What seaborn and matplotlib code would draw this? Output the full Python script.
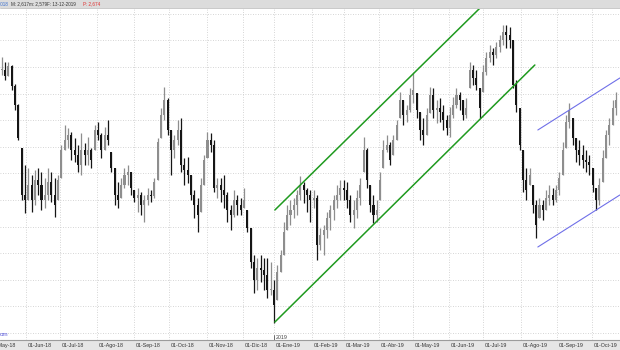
import numpy as np
import pandas as pd
import matplotlib
matplotlib.use("Agg")
import matplotlib.pyplot as plt
import matplotlib.transforms as mtransforms
from matplotlib.patches import Rectangle
from matplotlib.lines import Line2D
import seaborn as sns

# ---- data (bi-daily candles, price in index points) ----
high = [343, 338, 338, 335, 316, 296, 252, 235, 232, 225, 230, 232, 228, 222, 232, 228, 222, 225, 255, 275,
        272, 268, 262, 255, 267, 257, 263, 252, 275, 278, 267, 273, 280, 248, 232, 218, 222, 232, 235, 228,
        210, 212, 208, 205, 212, 210, 222, 262, 292, 313, 302, 270, 265, 280, 282, 242, 243, 225, 210, 202,
        222, 245, 268, 267, 260, 222, 222, 225, 208, 195, 210, 205, 202, 212, 190, 172, 145, 142, 145, 142,
        142, 138, 120, 135, 150, 178, 195, 200, 202, 210, 224, 218, 212, 210, 210, 205, 172, 175, 188, 195,
        205, 215, 220, 220, 218, 205, 200, 210, 222, 263, 252, 215, 205, 200, 228, 260, 265, 258, 265, 280,
        308, 300, 295, 312, 327, 307, 288, 282, 292, 313, 312, 300, 302, 295, 285, 293, 303, 312, 308, 300,
        302, 338, 335, 330, 312, 335, 348, 355, 352, 358, 365, 375, 375, 373, 360, 320, 292, 250, 232, 232,
        215, 200, 202, 200, 210, 215, 212, 215, 228, 258, 285, 297, 282, 262, 260, 255, 250, 245, 232, 212,
        222, 250, 270, 282, 300, 308]
low = [325, 320, 324, 310, 290, 260, 200, 187, 200, 188, 195, 205, 190, 192, 200, 198, 183, 200, 222, 250,
       252, 240, 238, 228, 225, 235, 235, 232, 250, 260, 242, 250, 255, 228, 195, 192, 202, 212, 215, 205,
       198, 188, 185, 178, 195, 198, 202, 220, 262, 280, 265, 225, 242, 255, 228, 215, 217, 200, 182, 168,
       188, 215, 242, 248, 208, 202, 198, 192, 178, 170, 183, 185, 185, 192, 168, 132, 107, 110, 118, 110,
       102, 105, 77, 100, 128, 145, 170, 175, 182, 185, 200, 197, 188, 178, 192, 140, 150, 145, 162, 170,
       180, 192, 200, 200, 192, 178, 172, 182, 195, 228, 212, 188, 177, 178, 200, 232, 248, 235, 245, 260,
       282, 275, 278, 288, 297, 282, 260, 255, 265, 287, 282, 277, 278, 270, 265, 263, 282, 292, 290, 280,
       282, 312, 315, 310, 282, 308, 325, 338, 335, 342, 348, 355, 352, 352, 312, 288, 250, 208, 200, 215,
       187, 162, 182, 180, 190, 195, 195, 198, 205, 225, 252, 272, 255, 238, 235, 232, 228, 225, 208, 190,
       195, 218, 242, 255, 275, 285]
close = [330, 324, 334, 314, 295, 262, 205, 200, 215, 200, 220, 215, 200, 205, 218, 205, 195, 220, 250, 260,
         265, 250, 245, 235, 250, 245, 250, 240, 270, 265, 250, 265, 260, 232, 205, 200, 215, 225, 228, 212,
         202, 205, 195, 200, 205, 204, 218, 258, 285, 300, 270, 250, 260, 270, 235, 230, 225, 205, 195, 185,
         215, 240, 260, 255, 212, 215, 210, 205, 190, 185, 200, 195, 190, 200, 172, 138, 120, 132, 130, 125,
         110, 110, 95, 128, 145, 168, 185, 190, 195, 205, 215, 210, 205, 200, 202, 155, 165, 170, 182, 190,
         200, 205, 212, 210, 200, 185, 190, 202, 215, 250, 220, 195, 185, 190, 220, 250, 255, 240, 260, 275,
         300, 285, 290, 305, 310, 290, 270, 265, 285, 305, 290, 292, 288, 280, 272, 285, 295, 305, 300, 285,
         292, 330, 322, 315, 292, 328, 342, 348, 345, 353, 360, 368, 365, 360, 315, 295, 255, 220, 210, 225,
         195, 175, 195, 190, 202, 205, 200, 210, 222, 250, 278, 290, 262, 250, 245, 240, 238, 235, 215, 200,
         215, 242, 265, 275, 292, 300]

# axis: bar index where each month begins, and its label
month_pos = [7.3, 17.6, 28.7, 39.8, 50.4, 61.8, 72.7, 82.0, 93.5, 103.1, 113.6, 123.9, 134.7, 145.0,
             156.4, 167.3, 177.8]
month_labels = ["01-Jun-18", "01-Jul-18", "01-Ago-18", "01-Sep-18", "01-Oct-18", "01-Nov-18", "01-Dic-18",
                "01-Ene-19", "01-Feb-19", "01-Mar-19", "01-Abr-19", "01-May-19", "01-Jun-19", "01-Jul-19",
                "01-Ago-19", "01-Sep-19", "01-Oct-19"]
prev_month_pos = -3.8
prev_month_label = "01-May-18"

# trend channels (bar index, price)
green_upper_x = [82.3, 144.7]
green_upper_y = [190, 394]
green_lower_x = [82.3, 160.6]
green_lower_y = [78, 335]
blue_upper_x = [161.5, 186.2]
blue_upper_y = [270, 322]
blue_lower_x = [161.5, 186.2]
blue_lower_y = [153, 205]

# ---- drawing ----
sns.set_theme(style="white")
plt.rcParams["font.family"] = ["Liberation Sans", "DejaVu Sans"]

W, H = 620, 350
fig = plt.figure(figsize=(W / 100, H / 100), dpi=100)
fig.patch.set_facecolor("white")

# bottom strip and header bar (behind everything)
fig.patches.append(Rectangle((0, 0), 1, 10 / H, transform=fig.transFigure,
                             facecolor="#e6e6e6", edgecolor="none", zorder=-5))
fig.patches.append(Rectangle((0, 342 / H), 1, 8 / H, transform=fig.transFigure,
                             facecolor="#dcdcdc", edgecolor="none", zorder=-5))

ax = fig.add_axes([0, 10 / H, 1, 331 / H])
ax.set_facecolor("white")

df = pd.DataFrame({"high": high, "low": low, "close": close})
df["bar"] = np.arange(len(df))
op = np.r_[df["close"].iloc[0], df["close"].values[:-1]]
df["open"] = np.clip(op, df["low"], df["high"])
up = df["close"] >= df["open"]
cols = np.where(up, "#8e8e8e", "#151515")

ax.vlines(df["bar"], df["low"], df["high"], colors=cols, linewidth=0.9, zorder=3)
body_h = np.maximum((df["close"] - df["open"]).abs(), 1.2)
ax.bar(df["bar"], body_h, bottom=np.minimum(df["open"], df["close"]), width=0.62,
       color=cols, linewidth=0, zorder=4)

for xs, ys, c, lw in [(green_upper_x, green_upper_y, "#1f9a1f", 1.1),
                      (green_lower_x, green_lower_y, "#1f9a1f", 1.1),
                      (blue_upper_x, blue_upper_y, "#6f6fe8", 0.8),
                      (blue_lower_x, blue_lower_y, "#6f6fe8", 0.8)]:
    sns.lineplot(x=xs, y=ys, ax=ax, color=c, linewidth=lw, zorder=5)

ax.set_xlim(-0.5, 186.25)
ax.set_ylim(60, 391)
ax.set_yticks(np.arange(67, 391, 26.6))
ax.set_xticks(month_pos)
ax.set_xticklabels([])
ax.set_yticklabels([])
ax.grid(True, linestyle=(0, (1, 2)), color="#c8c8c8", linewidth=0.6)
ax.tick_params(axis="y", length=0)
ax.tick_params(axis="x", direction="out", length=5, width=0.6, color="#666666")
for s in ax.spines.values():
    s.set_visible(False)

trans = mtransforms.blended_transform_factory(ax.transData, ax.transAxes)
for p, lab in zip([prev_month_pos] + month_pos, [prev_month_label] + month_labels):
    ax.text(p + 0.5, -0.0155, lab, transform=trans, fontsize=3.8, color="#333333",
            ha="left", va="center", clip_on=False, zorder=10)

# year marker
ax.plot([month_pos[7], month_pos[7]], [0.0, 0.014], transform=trans, color="#555555",
        linewidth=0.6, clip_on=False)
ax.text(month_pos[7] + 0.5, 0.009, "2019", transform=trans, fontsize=3.8, color="#444444",
        ha="left", va="center")

fig.add_artist(Line2D([0, 1], [10 / H, 10 / H], transform=fig.transFigure,
                      color="#9c9c9c", linewidth=0.8))
fig.add_artist(Line2D([0, 1], [342 / H, 342 / H], transform=fig.transFigure,
                      color="#c0c0c0", linewidth=0.6))

hy = 346 / H
fig.text(0 / W, hy, ".018", fontsize=3.3, color="#3a6fd0", va="center")
fig.text(11 / W, hy, "M: 2,617", fontsize=3.3, color="#333333", va="center")
fig.text(29 / W, hy, "m: 2,579", fontsize=3.3, color="#333333", va="center")
fig.text(47 / W, hy, "F: 13-12-2019", fontsize=3.3, color="#333333", va="center")
fig.text(83 / W, hy, "P: 2,674", fontsize=3.3, color="#e03030", va="center")

fig.text(0.0, (H - 334) / H, "om", fontsize=4.5, color="#5a5adc", va="center")

fig.savefig("out.png", dpi=100)
